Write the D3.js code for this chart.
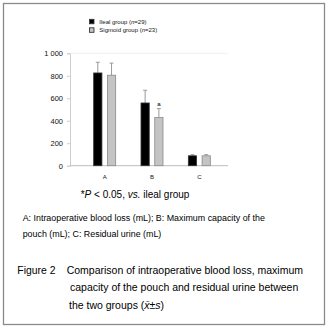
<!DOCTYPE html>
<html><head><meta charset="utf-8">
<script src="https://cdn.jsdelivr.net/npm/d3@7"></script>
<style>body{margin:0;background:#fff}svg{display:block}text{font-family:"Liberation Sans",Arial,sans-serif}</style>
</head><body>
<script>
const categories = ["A", "B", "C"];
const seriesNames = ["Ileal group (n=29)", "Sigmoid group (n=23)"];
const ilealMean = [825, 558, 88];
const ilealSD = [95, 113, 10];
const sigmoidMean = [805, 428, 88];
const sigmoidSD = [108, 80, 10];
const yTicks = [0, 200, 400, 600, 800, 1000];
const sigMarks = ["", "a", ""];

const W = 326, H = 329;
const svg = d3.select("body").append("svg").attr("width", W).attr("height", H);

svg.append("rect").attr("x", 3.5).attr("y", 3.5).attr("width", 321).attr("height", 321)
  .attr("fill", "#fff").attr("stroke", "#8a8a8a").attr("stroke-width", 1.3);

const y = d3.scaleLinear().domain([0, 1000]).range([165.7, 53.3]);
const x0 = d3.scaleBand().domain(categories).range([81, 223]);
const x1 = d3.scaleBand().domain([0, 1]).range([0, 22]).paddingInner(0.4);
const off = (x0.bandwidth() - 22) / 2;

const fmt = d3.formatLocale({decimal: ".", thousands: " ", grouping: [3], currency: ["", ""]}).format(",d");

svg.append("line").attr("x1", 70).attr("x2", 228).attr("y1", y(1000)).attr("y2", y(1000))
  .attr("stroke", "#f0f0f0").attr("stroke-width", 1);

const yAxis = d3.axisLeft(y).tickValues(yTicks).tickFormat(fmt).tickSize(3).tickPadding(4);
const gy = svg.append("g").attr("transform", "translate(70,0)").call(yAxis);
gy.select(".domain").attr("stroke", "#cfcfcf");
gy.selectAll(".tick line").attr("stroke", "#cfcfcf");
gy.selectAll(".tick text").attr("font-size", 7.5).attr("fill", "#111").attr("font-family", "Liberation Sans, Arial");

const xAxis = d3.axisBottom(x0).tickSize(0).tickPadding(9);
const gx = svg.append("g").attr("transform", `translate(0,${y(0)})`).call(xAxis);
gx.select(".domain").remove();
svg.append("line").attr("x1", 70).attr("x2", 228).attr("y1", y(0)).attr("y2", y(0))
  .attr("stroke", "#bdbdbd").attr("stroke-width", 1);
gx.selectAll(".tick text").attr("font-size", 6).attr("fill", "#111").attr("font-family", "Liberation Sans, Arial");

const means = [ilealMean, sigmoidMean];
const sds = [ilealSD, sigmoidSD];
const fills = ["#000000", "#c4c4c4"];
const strokes = ["#333333", "#8a8a8a"];

categories.forEach((c, i) => {
  [0, 1].forEach(s => {
    const bx = x0(c) + off + x1(s);
    const bw = x1.bandwidth();
    const cx = bx + bw / 2;
    const m = means[s][i], sd = sds[s][i];
    svg.append("line").attr("x1", cx).attr("x2", cx).attr("y1", y(m)).attr("y2", y(m + sd))
      .attr("stroke", "#9a9a9a").attr("stroke-width", 1);
    svg.append("line").attr("x1", cx - 2).attr("x2", cx + 2).attr("y1", y(m + sd)).attr("y2", y(m + sd))
      .attr("stroke", "#9a9a9a").attr("stroke-width", 1);
    svg.append("rect").attr("x", bx).attr("y", y(m)).attr("width", bw).attr("height", y(0) - y(m))
      .attr("fill", fills[s]).attr("stroke", strokes[s]).attr("stroke-width", 0.8);
    if (s === 1 && sigMarks[i]) {
      svg.append("text").attr("x", cx).attr("y", y(m + sd) - 3).attr("text-anchor", "middle")
        .attr("font-size", 6).attr("font-weight", "bold").attr("fill", "#333").text(sigMarks[i]);
    }
  });
});

seriesNames.forEach((n, s) => {
  const ly = 21.5 + s * 8.5;
  svg.append("rect").attr("x", 89.5).attr("y", ly - 2.2).attr("width", 4.5).attr("height", 4.5)
    .attr("fill", fills[s]).attr("stroke", s ? "#222" : "#333").attr("stroke-width", 0.8);
  const t = svg.append("text").attr("x", 99.3).attr("y", ly).attr("dy", "0.35em")
    .attr("font-size", 6).attr("fill", "#111");
  const m = n.match(/^(.*\()n(=.*)$/);
  t.append("tspan").text(m[1]);
  t.append("tspan").attr("font-style", "italic").text("n");
  t.append("tspan").text(m[2]);
});

const fn = svg.append("text").attr("x", 80.7).attr("y", 194).attr("dy", "0.35em")
  .attr("font-size", 10).attr("fill", "#000");
fn.append("tspan").text("*");
fn.append("tspan").attr("font-style", "italic").text("P");
fn.append("tspan").text(" < 0.05, ");
fn.append("tspan").attr("font-style", "italic").text("vs.");
fn.append("tspan").text(" ileal group");

svg.append("text").attr("x", 22.7).attr("y", 218.3).attr("dy", "0.35em").attr("font-size", 8.9)
  .text("A: Intraoperative blood loss (mL); B: Maximum capacity of the");
svg.append("text").attr("x", 22.7).attr("y", 234.3).attr("dy", "0.35em").attr("font-size", 8.9)
  .text("pouch (mL); C: Residual urine (mL)");

svg.append("text").attr("x", 17.3).attr("y", 270).attr("dy", "0.35em").attr("font-size", 10.4)
  .text("Figure 2");
svg.append("text").attr("x", 66.7).attr("y", 270).attr("dy", "0.35em").attr("font-size", 10.5)
  .text("Comparison of intraoperative blood loss, maximum");
svg.append("text").attr("x", 70).attr("y", 287.7).attr("dy", "0.35em").attr("font-size", 10.5)
  .text("capacity of the pouch and residual urine between");
const c3 = svg.append("text").attr("x", 69).attr("y", 305.4).attr("dy", "0.35em").attr("font-size", 10.5);
c3.append("tspan").text("the two groups (");
c3.append("tspan").attr("font-style", "italic").text("x\u0304");
c3.append("tspan").text("±");
c3.append("tspan").attr("font-style", "italic").text("s");
c3.append("tspan").text(")");
</script>
</body></html>
